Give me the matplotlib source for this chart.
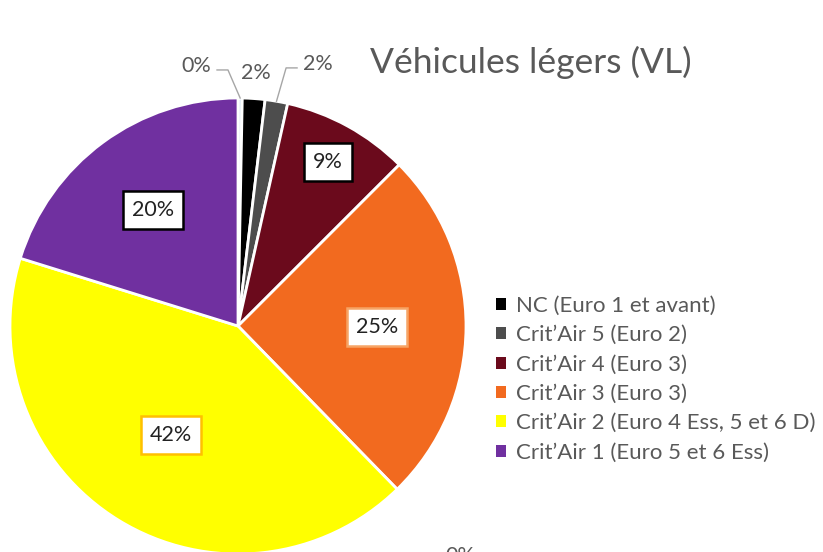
import numpy as np
import matplotlib
matplotlib.use("Agg")
import matplotlib.pyplot as plt
from matplotlib.lines import Line2D

# ---- data ----
categories = ["", "NC (Euro 1 et avant)", "Crit\u2019Air 5 (Euro 2)", "Crit\u2019Air 4 (Euro 3)",
              "Crit\u2019Air 3 (Euro 3)", "Crit\u2019Air 2 (Euro 4 Ess, 5 et 6 D)",
              "Crit\u2019Air 1 (Euro 5 et 6 Ess)"]
values = [0.3, 1.6, 1.6, 9.0, 25.2, 42.1, 20.2]
colors = ["#DCE9F5", "#000000", "#4D4D4D", "#6B0A1C", "#F26A1F", "#FFFF00", "#7030A0"]
title = "V\u00e9hicules l\u00e9gers (VL)"

# label styling (per slice)
label_inside = [False, False, False, True, True, True, True]
label_dist = [1.16, 1.11, 1.16, 0.82, 0.61, 0.56, 0.63]
box_edges = [None, None, None, "#000000", "#F7A465", "#FFC000", "#000000"]

W, H = 823, 552
fig = plt.figure(figsize=(W / 100, H / 100), dpi=100)
cx, cy, R = 238, 326, 228
ax = fig.add_axes([(cx - R) / W, (H - cy - R) / H, 2 * R / W, 2 * R / H])
ax.axis("off")

FONT = "Lato"
TXT = "#595959"

wedges, _ = ax.pie(values, colors=colors, startangle=90, counterclock=False,
                   radius=1.0, wedgeprops=dict(edgecolor="white", linewidth=2),
                   frame=False)
ax.set_xlim(-1, 1)
ax.set_ylim(-1, 1)
ax.set_aspect("equal")
for w in wedges:
    w.set_clip_on(False)

total = sum(values)
for i, (w, v) in enumerate(zip(wedges, values)):
    ang = np.deg2rad((w.theta1 + w.theta2) / 2)
    pct = f"{100 * v / total:.0f}%"
    d = label_dist[i]
    x, y = d * np.cos(ang), d * np.sin(ang)
    if label_inside[i]:
        ax.text(x, y, pct, ha="center", va="center", fontsize=15.5, family=FONT,
                color="#222222",
                bbox=dict(boxstyle="square,pad=0.42", fc="white", ec=box_edges[i], lw=1.8))
    else:
        if i == 0:
            x, y = -0.184, 1.140
        elif i == 1:
            x, y = 0.079, 1.110
        else:
            x, y = 0.351, 1.149
        ax.text(x, y, pct, ha="center", va="center", fontsize=15.5, family=FONT,
                color=TXT, clip_on=False)
        if i != 1:
            ex, ey = np.cos(ang), np.sin(ang)
            side = -1 if x < ex else 1
            tx = x - side * 0.092
            elx = x - side * 0.14
            ax.add_line(Line2D([ex, elx, tx], [ey, y - 0.017, y - 0.017],
                               color="#A6A6A6", lw=1, clip_on=False))

fig.text(531 / W, 1 - 62 / H, title, ha="center", va="center", fontsize=25.5,
         family=FONT, color=TXT)

# partial label at bottom edge (cut off in the reference too)
fig.text(460 / W, 1 - 546 / H, "0%", ha="center", va="top", fontsize=15.5,
         family=FONT, color=TXT)

leg = fig.legend(wedges[1:], categories[1:], loc="upper left",
                 bbox_to_anchor=(496 / W, 1 - 296 / H), frameon=False,
                 prop=dict(family=FONT, size=16), labelcolor=TXT,
                 handlelength=0.45, handleheight=0.45, handletextpad=0.45,
                 labelspacing=0.42, borderaxespad=0, borderpad=0)
for h in leg.legend_handles:
    h.set_linewidth(0)

fig.savefig("out.png", dpi=100)
